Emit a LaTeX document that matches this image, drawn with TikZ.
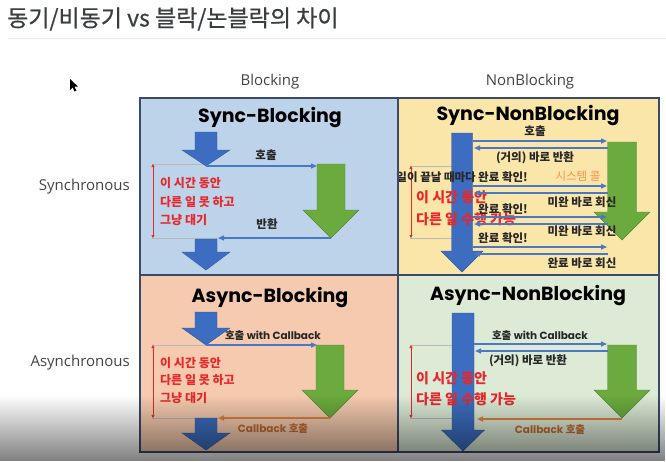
\documentclass[tikz,border=0pt]{standalone}
\usepackage{fontspec}
\usetikzlibrary{arrows.meta,fadings}
\newfontfamily\kr{Noto Sans CJK KR}
\newfontfamily\krt{Noto Sans CJK KR}[FakeBold=0.6]
\newfontfamily\pop{Poppins}
\newfontfamily\osans{Open Sans}
\definecolor{qblue}{HTML}{BCD3EA}
\definecolor{qyellow}{HTML}{FBE6A9}
\definecolor{qpeach}{HTML}{F5CAAE}
\definecolor{qgreen}{HTML}{DCEAD6}
\definecolor{gridc}{HTML}{3B4A6B}
\definecolor{arrblue}{HTML}{3C6DC0}
\definecolor{arrgreen}{HTML}{6BAA3E}
\definecolor{lineblue}{HTML}{4A78C6}
\definecolor{lineorange}{HTML}{E08440}
\definecolor{cbtext}{HTML}{C06A30}
\definecolor{redc}{HTML}{E8262B}
\definecolor{syscall}{HTML}{F2954A}
\definecolor{lblc}{HTML}{262626}
\definecolor{hdrc}{HTML}{444444}
\definecolor{titlec}{HTML}{3A3D42}
\definecolor{boxc}{HTML}{B8B8B8}
\newcommand{\dnblk}[7]{\fill[#1, draw=#1!80!black, line width=0.4pt] ({#2-#6},#3) -- ({#2+#6},#3) -- ({#2+#6},#4) -- ({#2+#7},#4) -- (#2,#5) -- ({#2-#7},#4) -- ({#2-#6},#4) -- cycle;}
\begin{document}
\begin{tikzpicture}[x=1pt,y=-1pt,
  qtitle/.style={font=\pop\bfseries\fontsize{19}{22}\selectfont, text=black, inner sep=0},
  hdr/.style={font=\osans\fontsize{15}{18}\selectfont, text=hdrc, inner sep=0},
  lbl/.style={font=\kr\bfseries\fontsize{11.5}{13}\selectfont, text=lblc, inner sep=0},
  cblbl/.style={font=\kr\bfseries\fontsize{10.5}{13}\selectfont, text=cbtext, inner sep=0},
  mixlbl/.style={font=\kr\bfseries\fontsize{10.5}{13}\selectfont, text=lblc, inner sep=0},
  syslbl/.style={font=\kr\fontsize{11.5}{13}\selectfont, text=syscall, inner sep=0},
  redtxt/.style={font=\kr\bfseries\fontsize{12}{14}\selectfont, text=redc, anchor=west, inner sep=0},
  redbig/.style={font=\kr\bfseries\fontsize{14}{16}\selectfont, text=redc, anchor=west, inner sep=0},
  bline/.style={draw=lineblue, line width=1.4pt, -{Triangle[length=6pt,width=5pt]}},
  oline/.style={draw=lineorange, line width=1.5pt, -{Triangle[length=6pt,width=5pt]}},
  gline/.style={draw=boxc, line width=0.4pt},
  rline/.style={draw=redc, line width=0.5pt, {Triangle[length=3pt,width=3pt]}-{Triangle[length=3pt,width=3pt]}}
]
\useasboundingbox (0,0) rectangle (666,461);
\fill[white] (0,0) rectangle (666,461);

% title
\node[anchor=west, font=\krt\fontsize{23}{26}\selectfont, text=titlec, inner sep=0] (title) at (7,19) {동기/비동기 vs 블락/논블락의 차이};
\draw[black!8, line width=0.8pt] (8,38) -- (666,38);

% cursor
\fill[black] (70,79) -- (70,90) -- (72.6,87.4) -- (74.6,91.5) -- (76.4,90.7) -- (74.4,86.6) -- (78,86.6) -- cycle;

% headers
\node[hdr] (hB) at (270,82) {Blocking};
\node[hdr] (hN) at (530,82) {NonBlocking};
\node[hdr, anchor=east] (hS) at (130,187) {Synchronous};
\node[hdr, anchor=east] (hA) at (130,363) {Asynchronous};

% quadrants
\fill[qblue] (140,98) rectangle (398,275);
\fill[qyellow] (398,98) rectangle (659,275);
\fill[qpeach] (140,275) rectangle (398,452);
\fill[qgreen] (398,275) rectangle (659,452);

% ===== Sync-Blocking =====
\node[qtitle] (tSB) at (270,117) {Sync-Blocking};
\draw[gline] (152,164) -- (206,164);
\draw[gline] (152,238) -- (218,238);
\coordinate (sbrT) at (153,164); \coordinate (sbrB) at (153,238);
\draw[rline] (sbrT) -- (sbrB);
\dnblk{arrblue}{206}{132}{150}{166}{11}{24}
\dnblk{arrgreen}{331}{164}{210}{238}{14}{28}
\dnblk{arrblue}{206}{239}{252}{270}{11}{24}
\coordinate (sbc1) at (206,166); \coordinate (sbc2) at (317,166);
\draw[bline] (sbc1) -- (sbc2);
\coordinate (sbr1) at (331,238); \coordinate (sbr2) at (218,238);
\draw[bline] (sbr1) -- (sbr2);
\node[lbl] (sbl1) at (266,155) {호출};
\node[lbl] (sbl2) at (267,224) {반환};
\node[redtxt] (sbt1) at (160,183) {이 시간 동안};
\node[redtxt] (sbt2) at (160,202) {다른 일 못 하고};
\node[redtxt] (sbt3) at (160,220) {그냥 대기};

% ===== Sync-NonBlocking =====
\node[qtitle] (tSN) at (528,115) {Sync-NonBlocking};
\draw[gline] (410,166) -- (452,166);
\draw[gline] (410,238) -- (452,238);
\coordinate (snrT) at (411,166); \coordinate (snrB) at (411,238);
\draw[rline] (snrT) -- (snrB);
\dnblk{arrblue}{462}{133}{251}{272}{10.5}{21}
\dnblk{arrgreen}{622}{142}{212}{240}{14.5}{28}
\node[redbig] (snt1) at (416,197) {이 시간 동안};
\node[redbig] (snt2) at (416,219) {다른 일 수행 가능};
\foreach \ya/\yb [count=\i] in {141/148,186/193,217/224,247/254}{
  \coordinate (snR\i a) at (473,\ya); \coordinate (snR\i b) at (607,\ya);
  \coordinate (snL\i a) at (608,\yb); \coordinate (snL\i b) at (474,\yb);
  \draw[bline] (snR\i a) -- (snR\i b);
  \draw[bline] (snL\i a) -- (snL\i b);
}
\node[lbl] (snl1) at (535,131.5) {호출};
\node[lbl] (snl2) at (535,158) {(거의) 바로 반환};
\node[lbl, anchor=east] (snl3) at (476,177) {일이 끝날 때마다};
\node[lbl, anchor=west] (snl4) at (478,177) {완료 확인!};
\node[syslbl] (snsys) at (578,176) {시스템 콜};
\node[lbl] (snl5) at (582,202) {미완 바로 회신};
\node[lbl, anchor=west] (snl6) at (478,209) {완료 확인!};
\node[lbl] (snl7) at (582,231) {미완 바로 회신};
\node[lbl, anchor=west] (snl8) at (478,238) {완료 확인!};
\node[lbl] (snl9) at (582,263) {완료 바로 회신};

% ===== Async-Blocking =====
\node[qtitle] (tAB) at (270,297) {Async-Blocking};
\draw[gline] (152,345) -- (206,345);
\draw[gline] (152,418) -- (218,418);
\coordinate (abrT) at (153,345); \coordinate (abrB) at (153,418);
\draw[rline] (abrT) -- (abrB);
\dnblk{arrblue}{206}{312}{328}{345}{11}{24}
\dnblk{arrgreen}{330}{345}{390}{418}{14}{28}
\dnblk{arrblue}{206}{418}{433}{450}{11}{24}
\coordinate (abc1) at (206,345); \coordinate (abc2) at (317,345);
\draw[bline] (abc1) -- (abc2);
\coordinate (abr1) at (330,418); \coordinate (abr2) at (218,418);
\draw[oline] (abr1) -- (abr2);
\node[mixlbl] (abl1) at (273,336) {호출 {\pop\bfseries with Callback}};
\node[cblbl] (abl2) at (273,429) {{\pop\bfseries Callback} 호출};
\node[redtxt] (abt1) at (160,363) {이 시간 동안};
\node[redtxt] (abt2) at (160,380) {다른 일 못 하고};
\node[redtxt] (abt3) at (160,398) {그냥 대기};

% ===== Async-NonBlocking =====
\node[qtitle] (tAN) at (528,295) {Async-NonBlocking};
\draw[gline] (410,345) -- (452,345);
\draw[gline] (410,418) -- (452,418);
\coordinate (anrT) at (411,345); \coordinate (anrB) at (411,418);
\draw[rline] (anrT) -- (anrB);
\dnblk{arrblue}{463}{313}{430}{451}{11}{21.5}
\dnblk{arrgreen}{622}{345}{390}{418}{14.5}{28}
\node[redbig] (ant1) at (416,378) {이 시간 동안};
\node[redbig] (ant2) at (416,399) {다른 일 수행 가능};
\coordinate (anc1) at (474,344); \coordinate (anc2) at (607,344);
\draw[bline] (anc1) -- (anc2);
\coordinate (anb1) at (608,351); \coordinate (anb2) at (475,351);
\draw[bline] (anb1) -- (anb2);
\coordinate (anr1) at (622,419); \coordinate (anr2) at (477,419);
\draw[oline] (anr1) -- (anr2);
\node[mixlbl] (anl1) at (540,336) {호출 {\pop\bfseries with Callback}};
\node[lbl] (anl2) at (528,361) {(거의) 바로 반환};
\node[cblbl] (anl3) at (550,430) {{\pop\bfseries Callback} 호출};

% grid
\draw[gridc, line width=1.3pt] (140,98) rectangle (659,452);
\draw[gridc, line width=1.3pt] (398,98) -- (398,452);
\draw[gridc, line width=1.3pt] (140,275) -- (659,275);

% bottom video fade
\fill[black, path fading=north, opacity=0.5] (0,395) rectangle (666,461);
\end{tikzpicture}
\end{document}
